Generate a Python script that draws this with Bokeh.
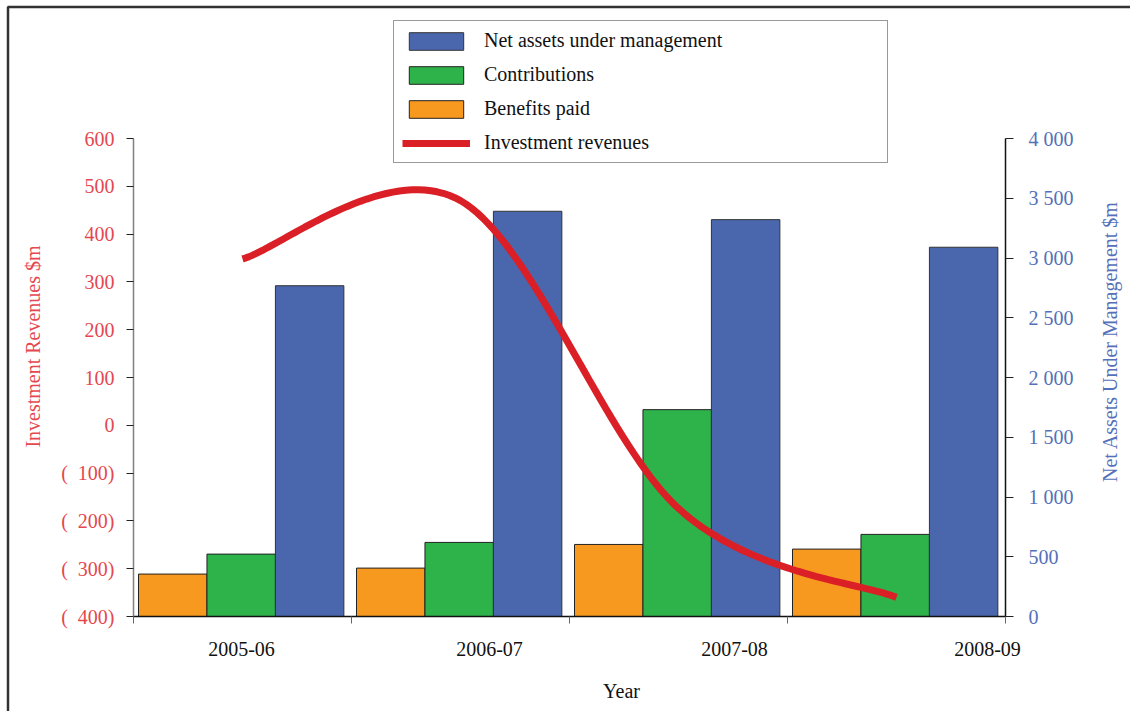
import numpy as np
from bokeh.plotting import figure
from bokeh.models import (Range1d, LinearAxis, FixedTicker, CustomJSTickFormatter,
                          Legend, LegendItem, Label, BoxAnnotation, ColumnDataSource)
from bokeh.embed import file_html
from bokeh.resources import INLINE

# ---- data ($m) ----
years = ["2005-06", "2006-07", "2007-08", "2008-09"]
net_assets = [2768, 3391, 3321, 3090]
contributions = [522, 620, 1731, 687]
benefits_paid = [355, 405, 603, 564]
investment_revenues = [348, 470, -174, -360]

left_ticks = list(range(-400, 601, 100))
right_ticks = list(range(0, 4001, 500))

# ---- styling ----
BLUE, GREEN, ORANGE, RED = "#4A67AE", "#2EB34B", "#F8991F", "#DB1F26"
LEFT_TXT, RIGHT_TXT = "#E5474F", "#5470B9"
FONT = "Liberation Serif"
FS = "20px"

W, H = 1130, 711
# plotting area (where the axes sit) in page pixels
AL, AR, AT, AB = 133, 1005, 138, 616
NCAT = len(years)
LMIN, LMAX = -400.0, 600.0
RMIN, RMAX = 0.0, 4000.0

# the frame spans the whole canvas; data ranges are widened so the axes land on the area above
xs_per_px = NCAT / (AR - AL)
ls_per_px = (LMAX - LMIN) / (AB - AT)
rs_per_px = (RMAX - RMIN) / (AB - AT)
x_range = Range1d(-AL * xs_per_px, NCAT + (W - AR) * xs_per_px)
y_range = Range1d(LMIN - (H - AB) * ls_per_px, LMAX + AT * ls_per_px)
r_range = Range1d(RMIN - (H - AB) * rs_per_px, RMAX + AT * rs_per_px)


def px_x(px):
    return (px - AL) * xs_per_px


def px_y(py):
    return LMAX - (py - AT) * ls_per_px


def smooth(xs, ys, n=40):
    """Bezier-smoothed line through the points (spreadsheet-style smoothing)."""
    P = np.column_stack([xs, ys]).astype(float)
    ext = np.vstack([P[0], P, P[-1]])
    t = np.linspace(0, 1, n)[:, None]
    parts = []
    for i in range(len(P) - 1):
        p0, p1, p2, p3 = ext[i], ext[i + 1], ext[i + 2], ext[i + 3]
        c1 = p1 + (p2 - p0) / 6
        c2 = p2 - (p3 - p1) / 6
        seg = (1 - t) ** 3 * p1 + 3 * (1 - t) ** 2 * t * c1 + 3 * (1 - t) * t ** 2 * c2 + t ** 3 * p2
        parts.append(seg if i == 0 else seg[1:])
    s = np.vstack(parts)
    return s[:, 0], s[:, 1]


p = figure(width=W, height=H, x_range=x_range, y_range=y_range,
           output_backend="svg", toolbar_location=None,
           x_axis_location=None, y_axis_location=None,
           min_border=0, min_border_left=0, min_border_right=0,
           min_border_top=0, min_border_bottom=0)
p.outline_line_color = None
p.grid.visible = False
p.background_fill_color = "white"
p.border_fill_color = "white"
p.extra_y_ranges = {"right": r_range}

# ---- bars (right axis) ----
centers = np.arange(NCAT) + 0.5
bw = 0.314
src = ColumnDataSource(dict(
    xo=centers - bw - 0.006, xg=centers - 0.006, xb=centers + bw - 0.006,
    benefits=benefits_paid, contrib=contributions, assets=net_assets))

r_or = p.vbar(x="xo", top="benefits", bottom=0, width=bw, source=src, y_range_name="right",
              fill_color=ORANGE, line_color="#222222", line_width=1)
r_gr = p.vbar(x="xg", top="contrib", bottom=0, width=bw, source=src, y_range_name="right",
              fill_color=GREEN, line_color="#222222", line_width=1)
r_bl = p.vbar(x="xb", top="assets", bottom=0, width=bw, source=src, y_range_name="right",
              fill_color=BLUE, line_color="#333333", line_width=1)

# ---- investment revenues line (left axis) ----
lx, ly = smooth(centers, investment_revenues)
r_ln = p.line(lx, ly, line_color=RED, line_width=7)

# ---- axes ----
label_pos = [px_x(241), px_x(489), px_x(734), px_x(987)]
xa = LinearAxis(fixed_location=LMIN, bounds=(0, NCAT),
                ticker=FixedTicker(ticks=label_pos, minor_ticks=list(range(NCAT + 1))))
xa.formatter = CustomJSTickFormatter(args=dict(labels=years), code="return labels[index];")
xa.major_tick_line_color = None
xa.major_tick_out = 0
xa.major_tick_in = 0
xa.minor_tick_in = 0
xa.minor_tick_out = 7
xa.minor_tick_line_color = "#666666"
xa.axis_line_color = "#111111"
xa.axis_line_width = 1.5
xa.major_label_text_font = FONT
xa.major_label_text_font_size = FS
xa.major_label_text_color = "#111111"
xa.major_label_standoff = 18
p.add_layout(xa, "below")

ya = LinearAxis(fixed_location=0, bounds=(LMIN, LMAX), ticker=FixedTicker(ticks=left_ticks))
ya.formatter = CustomJSTickFormatter(
    code='return tick < 0 ? "(\\u2007" + Math.abs(tick) + ")" : String(tick);')
ya.axis_line_color = "#808080"
ya.axis_line_width = 1.5
ya.major_tick_line_color = "#222222"
ya.major_tick_out = 7
ya.major_tick_in = 0
ya.minor_tick_line_color = None
ya.major_label_text_font = FONT
ya.major_label_text_font_size = FS
ya.major_label_text_color = LEFT_TXT
ya.major_label_standoff = 12
p.add_layout(ya, "left")

ra = LinearAxis(y_range_name="right", fixed_location=NCAT, bounds=(RMIN, RMAX),
                ticker=FixedTicker(ticks=right_ticks))
ra.formatter = CustomJSTickFormatter(code=(
    'if (tick >= 1000) { return Math.floor(tick / 1000) + "\\u00a0" + '
    'String(tick % 1000).padStart(3, "0"); } return String(tick);'))
ra.axis_line_color = "#111111"
ra.axis_line_width = 1.5
ra.major_tick_line_color = "#222222"
ra.major_tick_out = 8
ra.major_tick_in = 0
ra.minor_tick_line_color = None
ra.major_label_text_font = FONT
ra.major_label_text_font_size = FS
ra.major_label_text_color = RIGHT_TXT
ra.major_label_standoff = 15
p.add_layout(ra, "right")

# ---- axis titles ----
p.add_layout(Label(x=px_x(32), y=px_y(346), text="Investment Revenues $m", angle=np.pi / 2,
                   text_align="center", text_baseline="middle", text_color=LEFT_TXT,
                   text_font=FONT, text_font_size=FS))
p.add_layout(Label(x=px_x(1109), y=px_y(341), text="Net Assets Under Management $m",
                   angle=np.pi / 2, text_align="center", text_baseline="middle",
                   text_color=RIGHT_TXT, text_font=FONT, text_font_size=FS))
p.add_layout(Label(x=px_x(621), y=px_y(690), text="Year", text_align="center",
                   text_baseline="middle", text_color="#111111",
                   text_font=FONT, text_font_size=FS))

# ---- outer frame line (top and left) ----
p.add_layout(BoxAnnotation(left=px_x(7.5), right=px_x(1300), top=px_y(6.5), bottom=px_y(900),
                           fill_alpha=0, line_color="#333333", line_alpha=1.0, line_width=2.5))

# ---- legend ----
legend = Legend(items=[
    LegendItem(label="Net assets under management", renderers=[r_bl]),
    LegendItem(label="Contributions", renderers=[r_gr]),
    LegendItem(label="Benefits paid", renderers=[r_or]),
    LegendItem(label="Investment revenues", renderers=[r_ln]),
], location=(393, H - 163))
legend.glyph_width = 68
legend.glyph_height = 22
legend.label_height = 22
legend.label_width = 395
legend.label_standoff = 14
legend.spacing = 11
legend.padding = 8
legend.margin = 0
legend.border_line_color = "#333333"
legend.border_line_width = 1
legend.background_fill_color = "white"
legend.background_fill_alpha = 1
legend.label_text_font = FONT
legend.label_text_font_size = FS
legend.label_text_color = "#111111"
p.add_layout(legend, "center")

open("out.html", "w").write(file_html(p, INLINE))
